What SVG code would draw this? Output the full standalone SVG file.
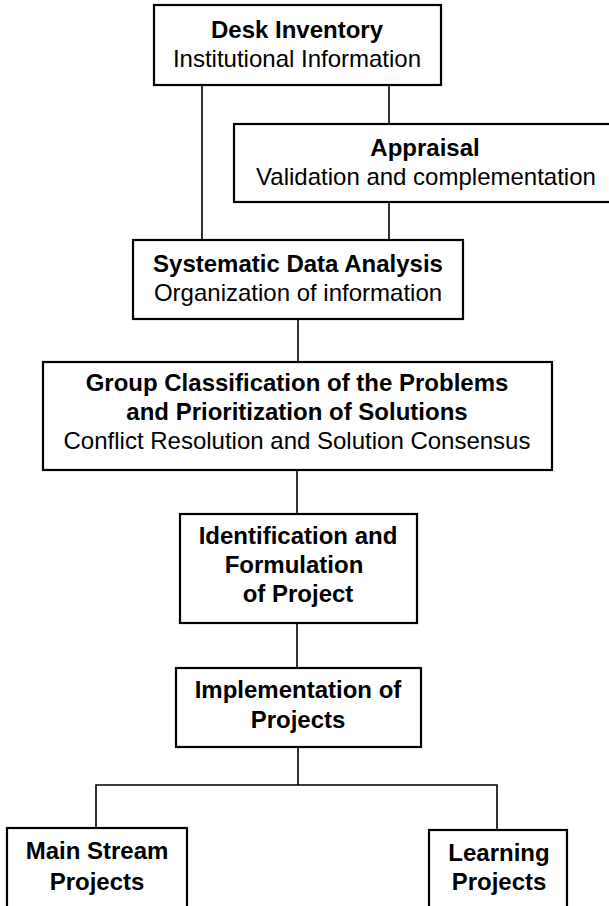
<svg xmlns="http://www.w3.org/2000/svg" width="609" height="906" viewBox="0 0 609 906">
<style>
.box{fill:#fff;stroke:#000;stroke-width:2.2}
.ln{fill:none;stroke:#000;stroke-width:1.6}
text{font-family:"Liberation Sans",Arial,sans-serif;font-size:24px;fill:#000;text-anchor:middle}
.b{font-weight:bold}
</style>
<rect width="609" height="906" fill="#fff"/>
<g id="connectors">
<line class="ln" x1="202" y1="85" x2="202" y2="240"/>
<line class="ln" x1="389" y1="85" x2="389" y2="124"/>
<line class="ln" x1="389" y1="202" x2="389" y2="240"/>
<line class="ln" x1="298" y1="319" x2="298" y2="362"/>
<line class="ln" x1="297" y1="470" x2="297" y2="514"/>
<line class="ln" x1="297" y1="623" x2="297" y2="668"/>
<line class="ln" x1="298" y1="747" x2="298" y2="785"/>
<polyline class="ln" points="96,828 96,785 497,785 497,830"/>
</g>
<g id="desk">
<rect class="box" x="154" y="5" width="287" height="80"/>
<text class="b" x="297" y="38">Desk Inventory</text>
<text x="297" y="67">Institutional Information</text>
</g>
<g id="appraisal">
<rect class="box" x="234" y="124" width="390" height="78"/>
<text class="b" x="425" y="156">Appraisal</text>
<text x="426" y="185">Validation and complementation</text>
</g>
<g id="systematic">
<rect class="box" x="133" y="240" width="330" height="79"/>
<text class="b" x="298" y="272">Systematic Data Analysis</text>
<text x="298" y="301">Organization of information</text>
</g>
<g id="group">
<rect class="box" x="43" y="362" width="509" height="108"/>
<text class="b" x="297" y="391">Group Classification of the Problems</text>
<text class="b" x="297" y="420">and Prioritization of Solutions</text>
<text x="297" y="449">Conflict Resolution and Solution Consensus</text>
</g>
<g id="identification">
<rect class="box" x="180" y="514" width="237" height="109"/>
<text class="b" x="298" y="544">Identification and</text>
<text class="b" x="294" y="573">Formulation</text>
<text class="b" x="298" y="602">of Project</text>
</g>
<g id="implementation">
<rect class="box" x="176" y="668" width="245" height="79"/>
<text class="b" x="298" y="698">Implementation of</text>
<text class="b" x="298" y="728">Projects</text>
</g>
<g id="mainstream">
<rect class="box" x="7" y="828" width="180" height="95"/>
<text class="b" x="97" y="859">Main Stream</text>
<text class="b" x="97" y="890">Projects</text>
</g>
<g id="learning">
<rect class="box" x="429" y="830" width="138" height="95"/>
<text class="b" x="499" y="861">Learning</text>
<text class="b" x="499" y="890">Projects</text>
</g>
</svg>
